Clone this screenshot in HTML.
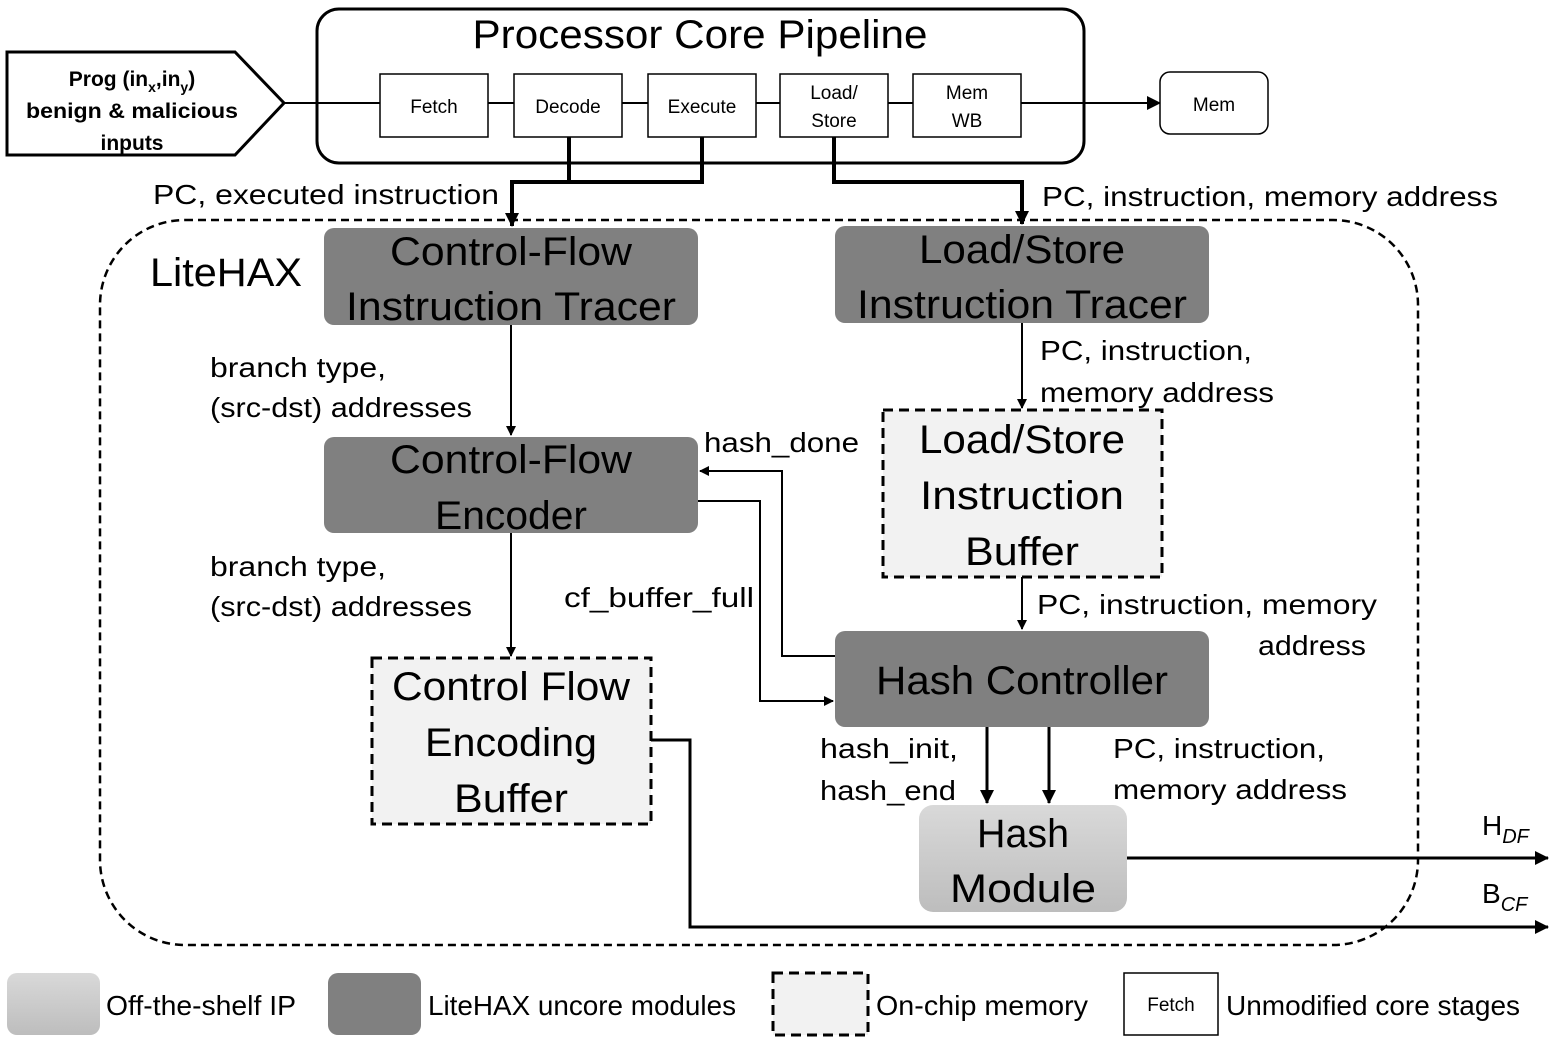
<!DOCTYPE html>
<html><head><meta charset="utf-8"><style>
html,body{margin:0;padding:0;background:#fff;}
svg{display:block;}
text{font-family:"Liberation Sans",sans-serif;fill:#000;}
</style></head><body>
<svg width="1562" height="1047" viewBox="0 0 1562 1047" xmlns="http://www.w3.org/2000/svg">
<defs>
<marker id="a" markerWidth="10" markerHeight="10" refX="9" refY="5" orient="auto" markerUnits="userSpaceOnUse"><path d="M0,0 L10,5 L0,10 z" fill="#000"/></marker>
<marker id="A" markerWidth="14" markerHeight="14" refX="13" refY="7" orient="auto" markerUnits="userSpaceOnUse"><path d="M0,0 L14,7 L0,14 z" fill="#000"/></marker>
<linearGradient id="g" x1="0" y1="0" x2="0" y2="1"><stop offset="0" stop-color="#d9d9d9"/><stop offset="1" stop-color="#bdbdbd"/></linearGradient>
</defs>

<!-- Processor core -->
<rect x="317" y="9" width="767" height="154" rx="22" fill="#fff" stroke="#000" stroke-width="3"/>
<text x="700" y="48" font-size="40" text-anchor="middle" textLength="455" lengthAdjust="spacingAndGlyphs">Processor Core Pipeline</text>

<!-- Prog pentagon -->
<polygon points="7,52 235,52 284,103 235,155 7,155" fill="#fff" stroke="#000" stroke-width="3"/>
<text x="132" y="86" font-size="21" font-weight="bold" text-anchor="middle">Prog (in<tspan font-size="14" dy="6">x</tspan><tspan dy="-6">,in</tspan><tspan font-size="14" dy="6">y</tspan><tspan dy="-6">)</tspan></text>
<text x="132" y="118" font-size="21" font-weight="bold" text-anchor="middle" textLength="212" lengthAdjust="spacingAndGlyphs">benign &amp; malicious</text>
<text x="132" y="150" font-size="21" font-weight="bold" text-anchor="middle">inputs</text>

<line x1="284" y1="103" x2="1160" y2="103" stroke="#000" stroke-width="2" marker-end="url(#A)"/>

<g stroke="#000" stroke-width="1.5" fill="#fff">
<rect x="380" y="74" width="108" height="63"/>
<rect x="514" y="74" width="108" height="63"/>
<rect x="648" y="74" width="108" height="63"/>
<rect x="780" y="74" width="108" height="63"/>
<rect x="913" y="74" width="108" height="63"/>
<rect x="1160" y="72" width="108" height="62" rx="10"/>
</g>
<g font-size="19" text-anchor="middle">
<text x="434" y="113">Fetch</text>
<text x="568" y="113">Decode</text>
<text x="702" y="113">Execute</text>
<text x="834" y="99">Load/</text>
<text x="834" y="127">Store</text>
<text x="967" y="99">Mem</text>
<text x="967" y="127">WB</text>
<text x="1214" y="111">Mem</text>
</g>

<!-- thick connectors from core -->
<g stroke="#000" stroke-width="4" fill="none">
<polyline points="569,137 569,182"/>
<polyline points="702,137 702,182 512,182 512,226" marker-end="url(#A)"/>
<polyline points="834,137 834,182 1022,182 1022,224" marker-end="url(#A)"/>
</g>
<text x="153" y="204" font-size="28" textLength="346" lengthAdjust="spacingAndGlyphs">PC,  executed instruction</text>
<text x="1042" y="206" font-size="28" textLength="456" lengthAdjust="spacingAndGlyphs">PC, instruction, memory address</text>

<!-- LiteHAX dashed -->
<rect x="100" y="220" width="1318" height="725" rx="85" fill="none" stroke="#000" stroke-width="2.5" stroke-dasharray="8,5"/>
<text x="150" y="286" font-size="40" textLength="152" lengthAdjust="spacingAndGlyphs">LiteHAX</text>

<!-- dark modules -->
<g fill="#808080">
<rect x="324" y="228" width="374" height="97" rx="10"/>
<rect x="835" y="226" width="374" height="97" rx="10"/>
<rect x="324" y="437" width="374" height="96" rx="10"/>
<rect x="835" y="631" width="374" height="96" rx="10"/>
</g>
<g font-size="40" text-anchor="middle">
<text x="511" y="265" textLength="242" lengthAdjust="spacingAndGlyphs">Control-Flow</text>
<text x="511" y="320" textLength="330" lengthAdjust="spacingAndGlyphs">Instruction Tracer</text>
<text x="1022" y="263" textLength="206" lengthAdjust="spacingAndGlyphs">Load/Store</text>
<text x="1022" y="318" textLength="330" lengthAdjust="spacingAndGlyphs">Instruction Tracer</text>
<text x="511" y="473" textLength="242" lengthAdjust="spacingAndGlyphs">Control-Flow</text>
<text x="511" y="529" textLength="152" lengthAdjust="spacingAndGlyphs">Encoder</text>
<text x="1022" y="694" textLength="292" lengthAdjust="spacingAndGlyphs">Hash Controller</text>
</g>

<!-- dashed memories -->
<g fill="#f2f2f2" stroke="#000" stroke-width="3" stroke-dasharray="10,6">
<rect x="883" y="410" width="279" height="167"/>
<rect x="372" y="658" width="279" height="166"/>
</g>
<g font-size="40" text-anchor="middle">
<text x="1022" y="453" textLength="206" lengthAdjust="spacingAndGlyphs">Load/Store</text>
<text x="1022" y="509" textLength="204" lengthAdjust="spacingAndGlyphs">Instruction</text>
<text x="1022" y="565" textLength="114" lengthAdjust="spacingAndGlyphs">Buffer</text>
<text x="511" y="700" textLength="238" lengthAdjust="spacingAndGlyphs">Control Flow</text>
<text x="511" y="756" textLength="172" lengthAdjust="spacingAndGlyphs">Encoding</text>
<text x="511" y="812" textLength="114" lengthAdjust="spacingAndGlyphs">Buffer</text>
</g>

<!-- Hash module -->
<rect x="919" y="805" width="208" height="107" rx="14" fill="url(#g)"/>
<text x="1023" y="847" font-size="40" text-anchor="middle" textLength="92" lengthAdjust="spacingAndGlyphs">Hash</text>
<text x="1023" y="902" font-size="40" text-anchor="middle" textLength="146" lengthAdjust="spacingAndGlyphs">Module</text>

<!-- thin arrows -->
<g stroke="#000" stroke-width="2" fill="none">
<line x1="511" y1="325" x2="511" y2="435" marker-end="url(#a)"/>
<line x1="1022" y1="323" x2="1022" y2="408" marker-end="url(#a)"/>
<line x1="511" y1="533" x2="511" y2="656" marker-end="url(#a)"/>
<line x1="1022" y1="577" x2="1022" y2="629" marker-end="url(#a)"/>
<polyline points="835,656 782,656 782,471 700,471" marker-end="url(#a)"/>
<polyline points="698,501 760,501 760,701 833,701" marker-end="url(#a)"/>
</g>
<g stroke="#000" stroke-width="3" fill="none">
<line x1="987" y1="727" x2="987" y2="803" marker-end="url(#A)"/>
<line x1="1049" y1="727" x2="1049" y2="803" marker-end="url(#A)"/>
<polyline points="651,740 690,740 690,927 1548,927" marker-end="url(#A)"/>
<line x1="1127" y1="858" x2="1548" y2="858" marker-end="url(#A)"/>
</g>

<!-- labels -->
<g font-size="28">
<text x="210" y="377" textLength="176" lengthAdjust="spacingAndGlyphs">branch type,</text>
<text x="210" y="417" textLength="262" lengthAdjust="spacingAndGlyphs">(src-dst) addresses</text>
<text x="210" y="576" textLength="176" lengthAdjust="spacingAndGlyphs">branch type,</text>
<text x="210" y="616" textLength="262" lengthAdjust="spacingAndGlyphs">(src-dst) addresses</text>
<text x="704" y="452" textLength="155" lengthAdjust="spacingAndGlyphs">hash_done</text>
<text x="564" y="607" textLength="190" lengthAdjust="spacingAndGlyphs">cf_buffer_full</text>
<text x="1040" y="360" textLength="212" lengthAdjust="spacingAndGlyphs">PC, instruction,</text>
<text x="1040" y="402" textLength="234" lengthAdjust="spacingAndGlyphs">memory address</text>
<text x="1037" y="614" textLength="340" lengthAdjust="spacingAndGlyphs">PC, instruction, memory</text>
<text x="1258" y="655" textLength="108" lengthAdjust="spacingAndGlyphs">address</text>
<text x="820" y="758" textLength="138" lengthAdjust="spacingAndGlyphs">hash_init,</text>
<text x="820" y="800" textLength="136" lengthAdjust="spacingAndGlyphs">hash_end</text>
<text x="1113" y="758" textLength="212" lengthAdjust="spacingAndGlyphs">PC, instruction,</text>
<text x="1113" y="799" textLength="234" lengthAdjust="spacingAndGlyphs">memory address</text>
<text x="1482" y="835">H<tspan font-size="20" font-style="italic" dy="8">DF</tspan></text>
<text x="1482" y="903">B<tspan font-size="20" font-style="italic" dy="8">CF</tspan></text>
</g>

<!-- legend -->
<rect x="7" y="973" width="93" height="62" rx="10" fill="url(#g)"/>
<rect x="328" y="973" width="93" height="62" rx="10" fill="#808080"/>
<rect x="773" y="973" width="95" height="62" fill="#f2f2f2" stroke="#000" stroke-width="3" stroke-dasharray="10,6"/>
<rect x="1124" y="973" width="94" height="62" fill="#fff" stroke="#000" stroke-width="1.5"/>
<text x="1171" y="1011" font-size="19" text-anchor="middle">Fetch</text>
<g font-size="28">
<text x="106" y="1015" textLength="190" lengthAdjust="spacingAndGlyphs">Off-the-shelf IP</text>
<text x="428" y="1015" textLength="308" lengthAdjust="spacingAndGlyphs">LiteHAX uncore modules</text>
<text x="876" y="1015" textLength="212" lengthAdjust="spacingAndGlyphs">On-chip memory</text>
<text x="1226" y="1015" textLength="294" lengthAdjust="spacingAndGlyphs">Unmodified core stages</text>
</g>
</svg>
</body></html>
